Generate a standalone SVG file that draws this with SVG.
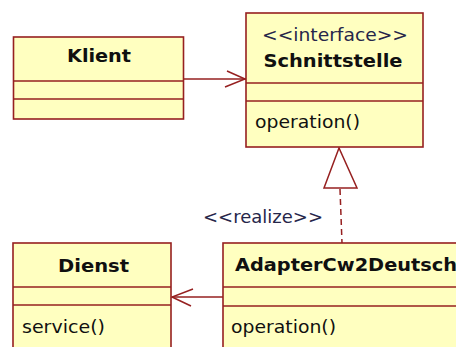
<svg xmlns="http://www.w3.org/2000/svg" width="456" height="347" viewBox="0 0 456 347">
<style>
.box{fill:#FFFFC0;stroke:#962020;stroke-width:1.6}
.sep{stroke:#962020;stroke-width:1.6}
.name{font-family:"DejaVu Sans",Verdana,sans-serif;font-weight:bold;font-size:17px;fill:#101010}
.txt{font-family:"DejaVu Sans",Verdana,sans-serif;font-size:17px;fill:#101010}
.st{font-family:"DejaVu Sans",Verdana,sans-serif;font-size:17px;fill:#26264a}
.ln{stroke:#962020;stroke-width:1.5;fill:none}
</style>
<rect width="456" height="347" fill="#ffffff"/>
<g id="connectors">
<line class="ln" x1="183" y1="79" x2="246" y2="79"/>
<polyline class="ln" points="227,71 245,79 225,87"/>
<line class="ln" x1="223" y1="297" x2="172" y2="297"/>
<polyline class="ln" points="193,289 172,297 191,306"/>
<line class="ln" x1="340" y1="189" x2="342" y2="243" stroke-dasharray="6,4"/>
<polygon class="ln" points="339,148 324,188 357,188" fill="#ffffff"/>
<text class="st" x="203" y="223" textLength="120" lengthAdjust="spacingAndGlyphs">&lt;&lt;realize&gt;&gt;</text>
</g>
<g id="Klient">
<rect class="box" x="13.5" y="37" width="170" height="82"/>
<line class="sep" x1="13.5" y1="81" x2="183.5" y2="81"/>
<line class="sep" x1="13.5" y1="99" x2="183.5" y2="99"/>
<text class="name" x="99" y="62" text-anchor="middle" textLength="64" lengthAdjust="spacingAndGlyphs">Klient</text>
</g>
<g id="Schnittstelle">
<rect class="box" x="246" y="13" width="177" height="134"/>
<line class="sep" x1="246" y1="83" x2="423" y2="83"/>
<line class="sep" x1="246" y1="101" x2="423" y2="101"/>
<text class="st" x="335" y="41" text-anchor="middle" textLength="146" lengthAdjust="spacingAndGlyphs">&lt;&lt;interface&gt;&gt;</text>
<text class="name" x="333" y="67" text-anchor="middle" textLength="139" lengthAdjust="spacingAndGlyphs">Schnittstelle</text>
<text class="txt" x="255" y="128" textLength="105" lengthAdjust="spacingAndGlyphs">operation()</text>
</g>
<g id="Dienst">
<rect class="box" x="13" y="243" width="158" height="120"/>
<line class="sep" x1="13" y1="287" x2="171" y2="287"/>
<line class="sep" x1="13" y1="305" x2="171" y2="305"/>
<text class="name" x="93.5" y="272" text-anchor="middle" textLength="71" lengthAdjust="spacingAndGlyphs">Dienst</text>
<text class="txt" x="22" y="333" textLength="83" lengthAdjust="spacingAndGlyphs">service()</text>
</g>
<g id="AdapterCw2Deutsch">
<rect class="box" x="223" y="243" width="260" height="120"/>
<line class="sep" x1="223" y1="287" x2="483" y2="287"/>
<line class="sep" x1="223" y1="306" x2="483" y2="306"/>
<text class="name" x="235" y="271" textLength="222" lengthAdjust="spacingAndGlyphs">AdapterCw2Deutsch</text>
<text class="txt" x="231" y="333" textLength="105" lengthAdjust="spacingAndGlyphs">operation()</text>
</g>
</svg>
